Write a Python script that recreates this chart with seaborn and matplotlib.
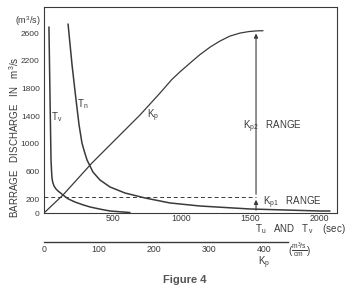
import matplotlib
matplotlib.use("Agg")
import matplotlib.pyplot as plt
import seaborn as sns

# values: time in sec, discharge in m3/s
tv_time = [36, 44, 51, 55, 58, 64, 73, 86, 102, 120, 138, 175, 225, 280, 335, 410, 480, 625]
tv_q = [2688, 1633, 766, 600, 506, 440, 390, 350, 318, 290, 260, 205, 159, 120, 87, 55, 29, 7]
tn_time = [175, 204, 233, 255, 276, 295, 313, 356, 407, 480, 589, 735, 916, 1135, 1498, 2007, 2080]
tn_q = [2731, 2139, 1633, 1272, 1012, 880, 766, 592, 477, 376, 289, 217, 145, 101, 58, 29, 29]
kp_x = [0, 138, 349, 698, 844, 930, 989, 1070, 1135, 1210, 1280, 1350, 1425, 1490, 1549, 1593]
kp_q = [0, 260, 723, 1416, 1734, 1930, 2040, 2180, 2290, 2400, 2485, 2555, 2600, 2622, 2632, 2634]

kp1_level = 231
arrow_x = 1542

y_ticks = [0, 200, 400, 600, 800, 1000, 1200, 1400, 1600, 1800, 2000, 2200, 2400, 2600]
y_labels = ["0", "200", "", "600", "", "1000", "", "1400", "", "1800", "", "2200", "", "2600"]
x_ticks = [500, 1000, 1500, 2000]
kp_ticks = [0, 100, 200, 300, 400]

sns.set_style("white")
plt.rcParams["font.family"] = ["Liberation Sans", "DejaVu Sans"]
plt.rcParams["mathtext.fontset"] = "custom"
plt.rcParams["mathtext.rm"] = "Liberation Sans"
plt.rcParams["mathtext.it"] = "Liberation Sans"

ink = "#3a3a3a"
W, H = 351, 293
fig = plt.figure(figsize=(W / 100, H / 100), dpi=100)

ax = fig.add_axes([44 / W, (H - 213) / H, (337 - 44) / W, (213 - 7) / H])
sns.lineplot(x=tv_time, y=tv_q, ax=ax, color=ink, lw=1.1, estimator=None, sort=False)
sns.lineplot(x=tn_time, y=tn_q, ax=ax, color=ink, lw=1.1, estimator=None, sort=False)
sns.lineplot(x=kp_x, y=kp_q, ax=ax, color=ink, lw=0.9, estimator=None, sort=False)

ax.plot([0, arrow_x], [kp1_level, kp1_level], ls=(0, (4, 3)), color=ink, lw=0.7)
ax.annotate("", xy=(arrow_x, kp1_level), xytext=(arrow_x, 0),
            arrowprops=dict(arrowstyle="-|>", color=ink, lw=0.8, mutation_scale=6))
ax.annotate("", xy=(arrow_x, kp_q[-1]), xytext=(arrow_x, kp1_level),
            arrowprops=dict(arrowstyle="-|>", color=ink, lw=0.8, mutation_scale=6))

ax.set_xlim(0, (337 - 44) / 0.1375)
ax.set_ylim(0, (213 - 7) / 0.0692)
ax.set_xticks(x_ticks)
ax.set_xticklabels([str(v) for v in x_ticks])
ax.set_yticks(y_ticks)
ax.set_yticklabels(y_labels)
ax.tick_params(axis="x", direction="in", length=3, width=0.7, pad=1, labelsize=6.3, colors=ink)
ax.tick_params(axis="y", direction="inout", length=4, width=0.7, pad=1, labelsize=6.0, colors=ink)
for s in ax.spines.values():
    s.set_color(ink)
    s.set_linewidth(0.8)

fs = 7
ax.text(95, 1380, r"$\mathrm{T_v}$", fontsize=fs, color=ink, ha="center", va="center")
ax.text(285, 1580, r"$\mathrm{T_n}$", fontsize=fs, color=ink, ha="center", va="center")
ax.text(790, 1400, r"$\mathrm{K_p}$", fontsize=fs, color=ink, ha="center", va="center")
ax.text(1445, 1240, r"$\mathrm{K_{p2}}$   RANGE", fontsize=fs, color=ink, ha="left", va="center")
ax.text(1590, 145, r"$\mathrm{K_{p1}}$   RANGE", fontsize=fs, color=ink, ha="left", va="center")

fig.text(255 / W, (H - 229) / H, r"$\mathrm{T_u}$   AND   $\mathrm{T_v}$    (sec)",
         fontsize=fs, color=ink, ha="left", va="center")
fig.text(14 / W, (H - 137) / H, r"BARRAGE   DISCHARGE   IN   $\mathrm{m^3/s}$",
         fontsize=7, color=ink, rotation=90, ha="center", va="center")
fig.text(28 / W, (H - 21) / H, r"$(\mathrm{m^3/s})$", fontsize=6.5, color=ink,
         ha="center", va="center")

# second scale for Kp
ax2 = fig.add_axes([44 / W, (H - 242) / H, (288 - 44) / W, 0.001])
ax2.set_xlim(0, (288 - 44) / 0.55)
ax2.set_ylim(0, 1)
ax2.set_yticks([])
ax2.set_xticks(kp_ticks)
ax2.set_xticklabels([str(v) for v in kp_ticks])
ax2.tick_params(axis="x", direction="in", length=4, width=0.7, pad=2, labelsize=6.3, colors=ink)
for side in ["top", "left", "right"]:
    ax2.spines[side].set_visible(False)
ax2.spines["bottom"].set_color(ink)
ax2.spines["bottom"].set_linewidth(1.0)
fig.text(264 / W, (H - 263) / H, r"$\mathrm{K_p}$", fontsize=fs, color=ink, ha="center", va="center")
fig.text(300 / W, (H - 250) / H, r"$(\frac{\mathrm{m^3/s}}{\mathrm{cm}})$", fontsize=7,
         color=ink, ha="center", va="center")

fig.text(185 / W, (H - 280) / H, "Figure 4", fontsize=8, fontweight="bold",
         color="#555555", ha="center", va="center")

fig.savefig("out.png", dpi=100, facecolor="white")
